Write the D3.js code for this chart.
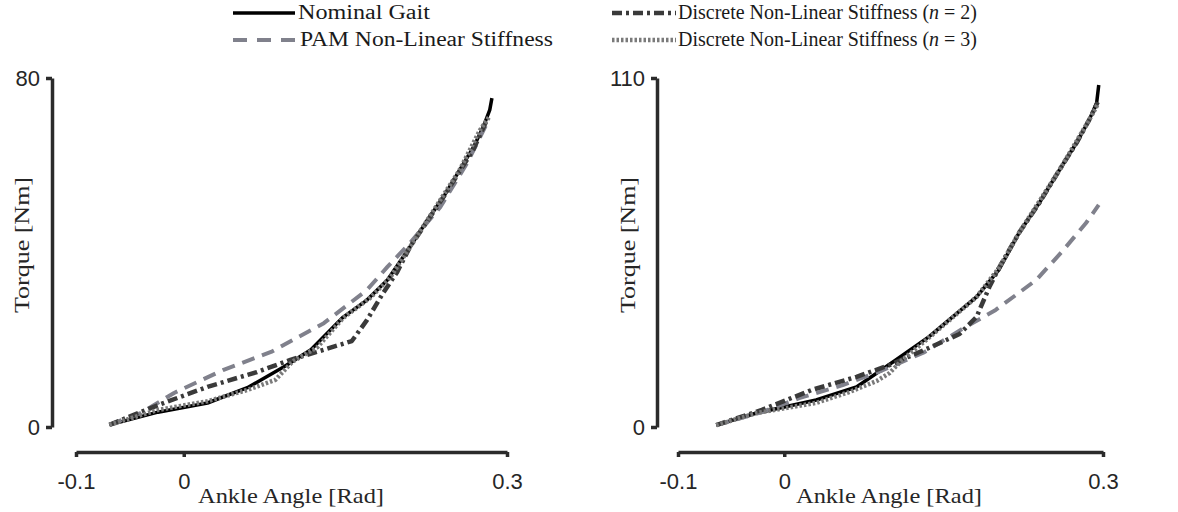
<!DOCTYPE html>
<html>
<head>
<meta charset="utf-8">
<script src="https://cdn.jsdelivr.net/npm/d3@7"></script>
<style>
  html, body { margin: 0; padding: 0; background: #fff; }
  svg { display: block; }
</style>
</head>
<body>
<svg id="chart" width="1178" height="512"></svg>
<script>
// Ankle angle [rad] / torque [Nm] pairs per controller, one set per subject panel.
const leftNominal = [[-0.069,0.5],[-0.024,3.4],[0.022,5.5],[0.059,9.0],[0.093,13.8],[0.118,17.7],[0.148,25.2],[0.170,29.1],[0.189,33.7],[0.210,41.3],[0.226,47.4],[0.241,52.7],[0.256,58.9],[0.269,64.2],[0.278,68.8],[0.284,72.7],[0.286,75.4]];
const leftPAM = [[-0.069,0.5],[-0.040,3.2],[-0.009,7.8],[0.037,13.1],[0.081,17.2],[0.130,23.8],[0.170,31.4],[0.189,36.7],[0.210,42.2],[0.238,50.4],[0.263,60.5],[0.282,69.9]];
const leftDiscrete2 = [[-0.069,0.5],[-0.024,5.0],[0.022,9.2],[0.068,12.6],[0.099,15.4],[0.130,17.7],[0.156,19.7],[0.170,24.5],[0.185,30.7],[0.198,35.5],[0.210,41.3],[0.241,52.7],[0.269,63.7],[0.282,70.8]];
const leftDiscrete3 = [[-0.069,0.5],[-0.024,3.9],[0.022,5.9],[0.059,8.5],[0.085,10.8],[0.101,15.0],[0.124,18.3],[0.148,25.0],[0.173,29.6],[0.192,34.4],[0.226,47.4],[0.256,58.9],[0.275,68.1],[0.284,71.3]];

const rightNominal = [[-0.064,0.6],[-0.026,4.4],[0.030,8.5],[0.068,12.6],[0.105,21.1],[0.136,28.4],[0.181,41.0],[0.202,49.5],[0.221,61.2],[0.240,70.6],[0.259,81.0],[0.275,89.5],[0.287,96.8],[0.294,102.1],[0.296,107.8]];
const rightPAM = [[-0.064,0.6],[-0.021,4.7],[0.014,9.1],[0.055,13.2],[0.092,17.8],[0.132,23.6],[0.166,30.6],[0.199,36.9],[0.237,46.3],[0.261,55.1],[0.284,64.3],[0.296,70.0]];
const rightDiscrete2 = [[-0.064,0.6],[-0.021,5.4],[0.026,11.7],[0.068,15.8],[0.099,19.5],[0.136,24.9],[0.165,29.3],[0.181,34.7],[0.193,44.1],[0.202,50.1],[0.221,61.2],[0.240,70.6],[0.259,81.0],[0.275,89.5],[0.287,96.8],[0.295,102.4]];
const rightDiscrete3 = [[-0.064,0.6],[-0.026,4.4],[0.030,7.6],[0.061,11.0],[0.087,14.5],[0.099,17.0],[0.111,21.1],[0.136,28.1],[0.181,41.0],[0.202,50.1],[0.221,61.2],[0.259,81.0],[0.287,96.8],[0.295,101.7]];

const xTicks = [-0.1, 0, 0.3];
const xTickLabels = ["-0.1", "0", "0.3"];
const leftYTicks = [0, 80];
const rightYTicks = [0, 110];
const xTitle = "Ankle Angle [Rad]";
const yTitle = "Torque [Nm]";

// Line styles for the four controllers (drawn in this order).
const styles = [
  { key: "nominal",   label: "Nominal Gait",                  color: "#000000", width: 3.5, dash: null },
  { key: "pam",       label: "PAM Non-Linear Stiffness",      color: "#80818c", width: 4,   dash: "13,8" },
  { key: "discrete2", label: "Discrete Non-Linear Stiffness", n: "2", color: "#3a3a3a", width: 4.5, dash: "10,4,3,4" },
  { key: "discrete3", label: "Discrete Non-Linear Stiffness", n: "3", color: "#7a7a7a", width: 4.5, dash: "2.5,2" }
];

const panels = [
  { yMax: 80,  yTicks: leftYTicks,  yAxisX: 52,  xRange: [76, 507],   yRange: [427, 78], xAxisY: 452,
    series: { nominal: leftNominal, pam: leftPAM, discrete2: leftDiscrete2, discrete3: leftDiscrete3 },
    xTitleX: 291, yTitleX: 29 },
  { yMax: 110, yTicks: rightYTicks, yAxisX: 657, xRange: [678, 1103], yRange: [427, 78], xAxisY: 452,
    series: { nominal: rightNominal, pam: rightPAM, discrete2: rightDiscrete2, discrete3: rightDiscrete3 },
    xTitleX: 889, yTitleX: 635 }
];

const svg = d3.select("#chart");
const axisColor = "#2b2b2b";
const serif = "'Liberation Serif', 'Times New Roman', serif";
const sans = "'Liberation Sans', Arial, sans-serif";

panels.forEach(p => {
  const x = d3.scaleLinear().domain([-0.1, 0.3]).range(p.xRange);
  const y = d3.scaleLinear().domain([0, p.yMax]).range(p.yRange);

  // Y axis
  const gy = svg.append("g").attr("transform", `translate(${p.yAxisX},0)`)
    .call(d3.axisLeft(y).tickValues(p.yTicks).tickSize(6).tickSizeOuter(0).tickPadding(6));
  // X axis
  const gx = svg.append("g").attr("transform", `translate(0,${p.xAxisY})`)
    .call(d3.axisBottom(x).tickValues(xTicks).tickFormat((d, i) => xTickLabels[i])
      .tickSize(5).tickSizeOuter(0).tickPadding(16));

  [gx, gy].forEach(g => {
    g.attr("font-size", 22).attr("font-family", sans);
    g.select(".domain").attr("stroke", axisColor).attr("stroke-width", 3.5);
    g.selectAll(".tick line").attr("stroke", axisColor).attr("stroke-width", 3.5);
    g.selectAll(".tick text").attr("fill", "#262626");
  });

  // Axis titles
  svg.append("text")
    .attr("x", p.xTitleX).attr("y", 503)
    .attr("text-anchor", "middle")
    .attr("textLength", 186).attr("lengthAdjust", "spacingAndGlyphs")
    .style("font-family", serif).style("font-size", "21px").attr("fill", "#262626")
    .text(xTitle);
  svg.append("text")
    .attr("transform", `translate(${p.yTitleX},245) rotate(-90)`)
    .attr("text-anchor", "middle")
    .attr("textLength", 136).attr("lengthAdjust", "spacingAndGlyphs")
    .style("font-family", serif).style("font-size", "21px").attr("fill", "#262626")
    .text(yTitle);

  const line = d3.line().x(d => x(d[0])).y(d => y(d[1])).curve(d3.curveLinear);
  styles.forEach(s => {
    svg.append("path")
      .datum(p.series[s.key])
      .attr("d", line)
      .attr("fill", "none")
      .attr("stroke", s.color)
      .attr("stroke-width", s.width)
      .attr("stroke-dasharray", s.dash)
      .attr("stroke-linejoin", "round");
  });
});

// Legend: two columns, two rows
const legendItems = [
  { style: styles[0], x0: 233, x1: 295, tx: 298, ty: 19, ly: 13, tw: 132 },
  { style: styles[1], x0: 233, x1: 295, tx: 300, ty: 46, ly: 40, tw: 253 },
  { style: styles[2], x0: 612, x1: 676, tx: 678, ty: 19, ly: 13, tw: 299 },
  { style: styles[3], x0: 612, x1: 676, tx: 678, ty: 46, ly: 40, tw: 299 }
];
const legendDash = { nominal: null, pam: "14,10", discrete2: "10,4,3,4", discrete3: "2.5,2" };

legendItems.forEach(it => {
  const s = it.style;
  svg.append("line")
    .attr("x1", it.x0).attr("x2", it.x1).attr("y1", it.ly).attr("y2", it.ly)
    .attr("stroke", s.color).attr("stroke-width", s.width)
    .attr("stroke-dasharray", legendDash[s.key]);
  const t = svg.append("text")
    .attr("x", it.tx).attr("y", it.ty)
    .attr("textLength", it.tw).attr("lengthAdjust", "spacingAndGlyphs")
    .style("font-family", serif).style("font-size", "20px").attr("fill", "#1a1a1a");
  if (s.n) {
    t.append("tspan").text(s.label + " (");
    t.append("tspan").style("font-style", "italic").text("n");
    t.append("tspan").text(" = " + s.n + ")");
  } else {
    t.text(s.label);
  }
});
</script>
</body>
</html>
